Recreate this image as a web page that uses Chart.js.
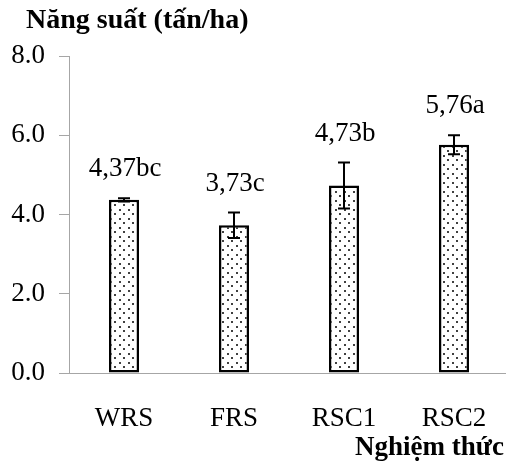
<!DOCTYPE html>
<html>
<head>
<meta charset="utf-8">
<script src="https://cdn.jsdelivr.net/npm/chart.js@4/dist/chart.umd.min.js"></script>
<style>
  html, body { margin: 0; padding: 0; background: #fff; overflow: hidden; }
  #wrap { width: 510px; height: 462px; }
</style>
</head>
<body>
<div id="wrap"><canvas id="yieldChart" width="510" height="462"></canvas></div>
<script>
const categories = ['WRS', 'FRS', 'RSC1', 'RSC2'];
const yields = [4.37, 3.73, 4.73, 5.76];
const errors = [0.04, 0.32, 0.58, 0.24];
const letters = ['bc', 'c', 'b', 'a'];
const yTicks = [0, 2, 4, 6, 8];

const serif = "'Liberation Serif', 'Times New Roman', serif";

function makeDots() 
{
  const tile = document.createElement('canvas');
  tile.width = 9;
  tile.height = 9;
  const t = tile.getContext('2d');
  t.fillStyle = '#ffffff';
  t.fillRect(0, 0, 9, 9);
  t.fillStyle = '#404040';
  t.fillRect(2, 2, 2, 2);
  t.fillRect(6, 6, 2, 2);
  return t.createPattern(tile, 'repeat');
}

const errorBars = {
  id: 'errorBars',
  afterDatasetsDraw(chart) 
  {
    const ctx = chart.ctx;
    const y = chart.scales.y;
    const meta = chart.getDatasetMeta(0);
    ctx.save();
    ctx.strokeStyle = '#000';
    ctx.lineWidth = 2;
    meta.data.forEach((bar, i) => 
    {
      const top = y.getPixelForValue(yields[i] + errors[i]);
      const bottom = y.getPixelForValue(yields[i] - errors[i]);
      ctx.beginPath();
      ctx.moveTo(bar.x, top);
      ctx.lineTo(bar.x, bottom);
      ctx.moveTo(bar.x - 6, top);
      ctx.lineTo(bar.x + 6, top);
      ctx.moveTo(bar.x - 6, bottom);
      ctx.lineTo(bar.x + 6, bottom);
      ctx.stroke();

      ctx.fillStyle = '#000';
      ctx.font = `27px ${serif}`;
      ctx.textAlign = 'center';
      ctx.textBaseline = 'middle';
      const label = yields[i].toFixed(2).replace('.', ',') + letters[i];
      ctx.fillText(label, bar.x + 1, top - 29);
    });
    ctx.restore();
  }
};

const axisTitles = {
  id: 'axisTitles',
  afterDraw(chart) 
  {
    const ctx = chart.ctx;
    ctx.save();
    ctx.fillStyle = '#000';
    ctx.font = `bold 28px ${serif}`;
    ctx.textBaseline = 'middle';
    ctx.textAlign = 'left';
    ctx.fillText('Năng suất (tấn/ha)', 26, 21);
    ctx.font = `bold 27px ${serif}`;
    ctx.textAlign = 'right';
    ctx.fillText('Nghiệm thức', 504, 448);
    ctx.restore();
  }
};

new Chart(document.getElementById('yieldChart'), {
  type: 'bar',
  data: {
    labels: categories,
    datasets: [{
      data: yields,
      backgroundColor: makeDots(),
      borderColor: '#000',
      borderWidth: 2.5,
      borderSkipped: false,
      barPercentage: 0.273,
      categoryPercentage: 1
    }]
  },
  options: {
    responsive: false,
    animation: false,
    devicePixelRatio: 1,
    layout: { padding: { top: 56, left: 0, right: 1, bottom: 0 } },
    plugins: {
      legend: { display: false },
      tooltip: { enabled: false },
      title: { display: false }
    },
    scales: {
      x: {
        grid: { display: false },
        border: { color: '#a6a6a6', width: 1 },
        ticks: { color: '#000', font: { family: serif, size: 27 }, padding: 22, maxRotation: 0 },
        afterFit: scale => { scale.height = 89; }
      },
      y: {
        min: 0,
        max: 8,
        afterBuildTicks: scale => { scale.ticks = yTicks.map(v => ({ value: v })); },
        grid: { drawOnChartArea: false, drawTicks: true, tickLength: 10, color: '#a6a6a6' },
        border: { color: '#a6a6a6', width: 1 },
        ticks: {
          color: '#000',
          font: { family: serif, size: 27 },
          padding: 14,
          callback: v => Number(v).toFixed(1)
        },
        afterFit: scale => { scale.width = 69; }
      }
    }
  },
  plugins: [errorBars, axisTitles]
});
</script>
</body>
</html>
